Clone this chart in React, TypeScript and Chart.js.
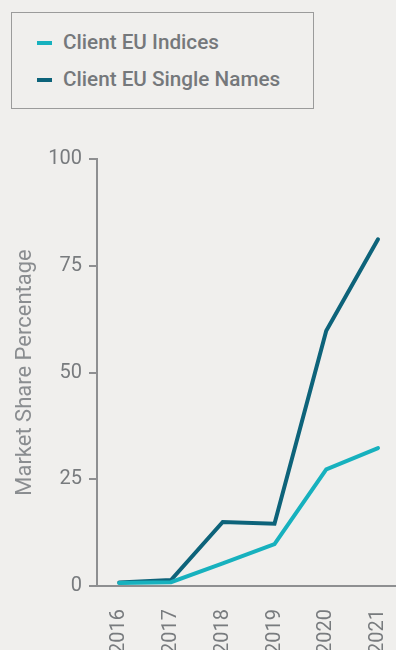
import React, { useEffect, useRef } from "react";
import { Chart, registerables } from "chart.js";

Chart.register(...registerables);

const years = [2016, 2017, 2018, 2019, 2020, 2021];
const seriesNames = ["Client EU Indices", "Client EU Single Names"];
const euIndices = [0.7, 0.9, 5.3, 9.8, 27.3, 32.3];
const euSingleNames = [0.8, 1.4, 15.0, 14.6, 59.8, 81.2];
const yTicks = [0, 25, 50, 75, 100];
const yTitle = "Market Share Percentage";

const colors = ["#17b1be", "#0d637a"];
const FONT = "Roboto, 'Noto Sans', sans-serif";
const TEXT = "#787b7e";
const AXIS = "#8e8f91";

export default function App() {
  const ref = useRef<HTMLCanvasElement | null>(null);

  useEffect(() => {
    document.body.style.background = "#f0efed";
    const ctx = ref.current!;
    const chart = new Chart(ctx, {
      type: "line",
      data: {
        datasets: [euIndices, euSingleNames].map((vals, i) => ({
          label: seriesNames[i],
          data: vals.map((v, j) => ({ x: years[j], y: v })),
          borderColor: colors[i],
          backgroundColor: colors[i],
          borderWidth: 4,
          borderCapStyle: "round" as const,
          pointRadius: 0,
          tension: 0,
          fill: false,
        })),
      },
      options: {
        animation: false,
        responsive: false,
        maintainAspectRatio: false,
        layout: { padding: { top: 17, right: 0, left: 0, bottom: 0 } },
        plugins: { legend: { display: false }, tooltip: { enabled: false } },
        scales: {
          x: {
            type: "linear",
            min: 2015.57,
            max: 2021.408,
            afterBuildTicks: (s: any) => {
              s.ticks = years.map((y) => ({ value: y }));
            },
            afterFit: (s: any) => {
              s.height = 64;
            },
            ticks: {
              autoSkip: false,
              minRotation: 90,
              maxRotation: 90,
              padding: 23,
              color: TEXT,
              font: { family: FONT, size: 20 },
              callback: (v: any) => String(v),
            },
            grid: { display: true, drawOnChartArea: false, drawTicks: false, color: AXIS },
            border: { display: true, color: AXIS, width: 2 },
          },
          y: {
            type: "linear",
            min: 0,
            max: 100,
            afterBuildTicks: (s: any) => {
              s.ticks = yTicks.map((v) => ({ value: v }));
            },
            afterFit: (s: any) => {
              s.width = 97;
            },
            ticks: {
              padding: 7,
              color: TEXT,
              font: { family: FONT, size: 20 },
            },
            grid: { drawOnChartArea: false, drawTicks: true, tickLength: 8, color: AXIS, lineWidth: 2 },
            border: { display: true, color: AXIS, width: 2 },
            title: {
              display: true,
              text: yTitle,
              color: "#8a8d90",
              font: { family: FONT, size: 22 },
              padding: { top: 12, bottom: 0 },
            },
          },
        },
      },
    });
    return () => chart.destroy();
  }, []);

  return (
    <div
      style={{
        position: "absolute",
        left: 0,
        top: 0,
        width: 396,
        height: 650,
        overflow: "hidden",
        background: "#f0efed",
      }}
    >
      <div
        style={{
          position: "absolute",
          left: 11,
          top: 12,
          width: 301,
          height: 95,
          border: "1px solid #9b9b9b",
          fontFamily: FONT,
          fontWeight: 500,
          fontSize: 20.7,
          color: "#75787b",
        }}
      >
        {seriesNames.map((n, i) => (
          <div
            key={n}
            style={{
              position: "absolute",
              left: 25,
              top: i === 0 ? 16 : 53,
              height: 26,
              lineHeight: "26px",
              whiteSpace: "nowrap",
            }}
          >
            <span
              style={{
                display: "inline-block",
                width: 15,
                height: 4,
                background: colors[i],
                verticalAlign: "middle",
                marginRight: 11,
                position: "relative",
                top: -1,
              }}
            />
            {n}
          </div>
        ))}
      </div>
      <canvas
        ref={ref}
        width={425}
        height={510}
        style={{ position: "absolute", left: 0, top: 140, width: 425, height: 510 }}
      />
    </div>
  );
}
